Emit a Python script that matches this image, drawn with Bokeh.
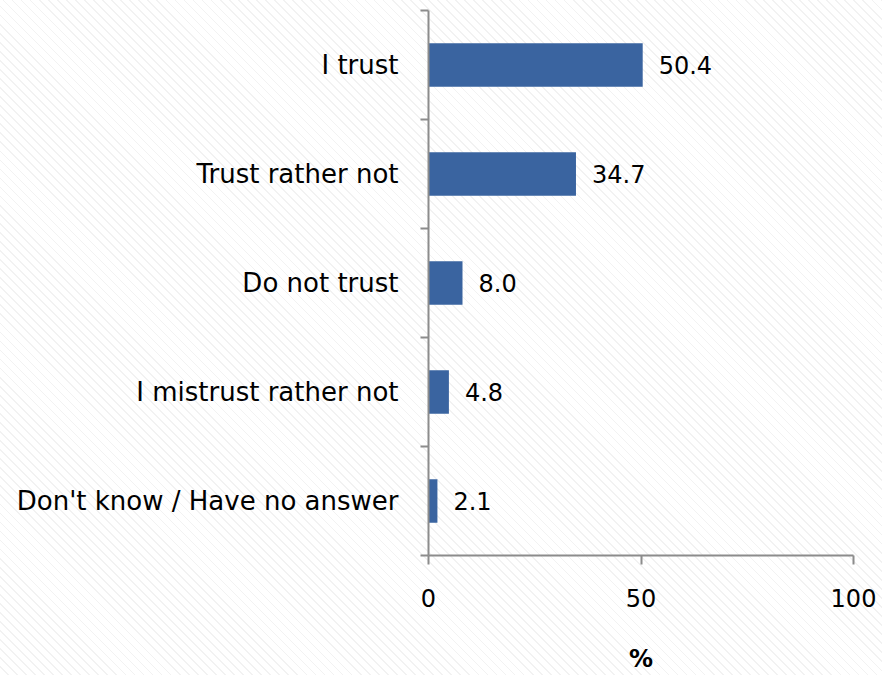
from bokeh.plotting import figure
from bokeh.models import Range1d, FixedTicker, ColumnDataSource, LabelSet
from bokeh.core.properties import value
from bokeh.embed import file_html
from bokeh.resources import INLINE

categories = ["I trust", "Trust rather not", "Do not trust", "I mistrust rather not", "Don't know / Have no answer"]
values = [50.4, 34.7, 8.0, 4.8, 2.1]
x_ticks = [0, 50, 100]

FONT = "DejaVu Sans"
BAR = "#3A64A0"
AX = "#8C8C8C"

ypos = [i + 0.5 for i in range(len(categories))]
src = ColumnDataSource(dict(y=ypos, v=values, lab=[f"{v:.1f}" for v in values]))

p = figure(width=882, height=675, output_backend="svg", toolbar_location=None,
           x_range=Range1d(0, 100), y_range=Range1d(len(categories), 0),
           min_border_left=428, min_border_right=29, min_border_top=10, min_border_bottom=118)
p.outline_line_color = None
p.grid.grid_line_color = None
p.background_fill_alpha = 0
p.border_fill_alpha = 0
p.styles = {"background": "repeating-linear-gradient(45deg, #ffffff 0px, #ffffff 5.2px, #f2f2f2 5.2px, #f2f2f2 6.4px)"}

p.hbar(y="y", right="v", left=0, height=0.4, source=src, fill_color=BAR, line_color=None)

labels = LabelSet(x="v", y="y", text="lab", source=src, x_offset=16, y_offset=0,
                  text_baseline="middle", text_font=value(FONT), text_font_size="24px", text_color="black")
p.add_layout(labels)

# y axis
ya = p.yaxis[0]
ya.ticker = FixedTicker(ticks=ypos, minor_ticks=list(range(len(categories) + 1)))
ya.major_label_overrides = {y: c for y, c in zip(ypos, categories)}
ya.major_tick_out = 0
ya.major_tick_in = 0
ya.minor_tick_out = 8
ya.minor_tick_in = 0
ya.minor_tick_line_color = AX
ya.axis_line_color = AX
ya.axis_line_width = 2
ya.minor_tick_line_width = 2
ya.major_label_standoff = 22
ya.major_label_text_font = FONT
ya.major_label_text_font_size = "26px"
ya.major_label_text_color = "black"

# x axis
xa = p.xaxis[0]
xa.ticker = FixedTicker(ticks=x_ticks)
xa.major_tick_out = 9
xa.major_tick_in = 0
xa.minor_tick_out = 0
xa.minor_tick_in = 0
xa.major_tick_line_color = AX
xa.major_tick_line_width = 2
xa.axis_line_color = AX
xa.axis_line_width = 2
xa.major_label_standoff = 24
xa.major_label_text_font = FONT
xa.major_label_text_font_size = "24px"
xa.major_label_text_color = "black"
xa.axis_label = "%"
xa.axis_label_text_font = FONT
xa.axis_label_text_font_size = "24px"
xa.axis_label_text_font_style = "bold"
xa.axis_label_text_color = "black"
xa.axis_label_standoff = 35

open("out.html", "w").write(file_html(p, INLINE))
